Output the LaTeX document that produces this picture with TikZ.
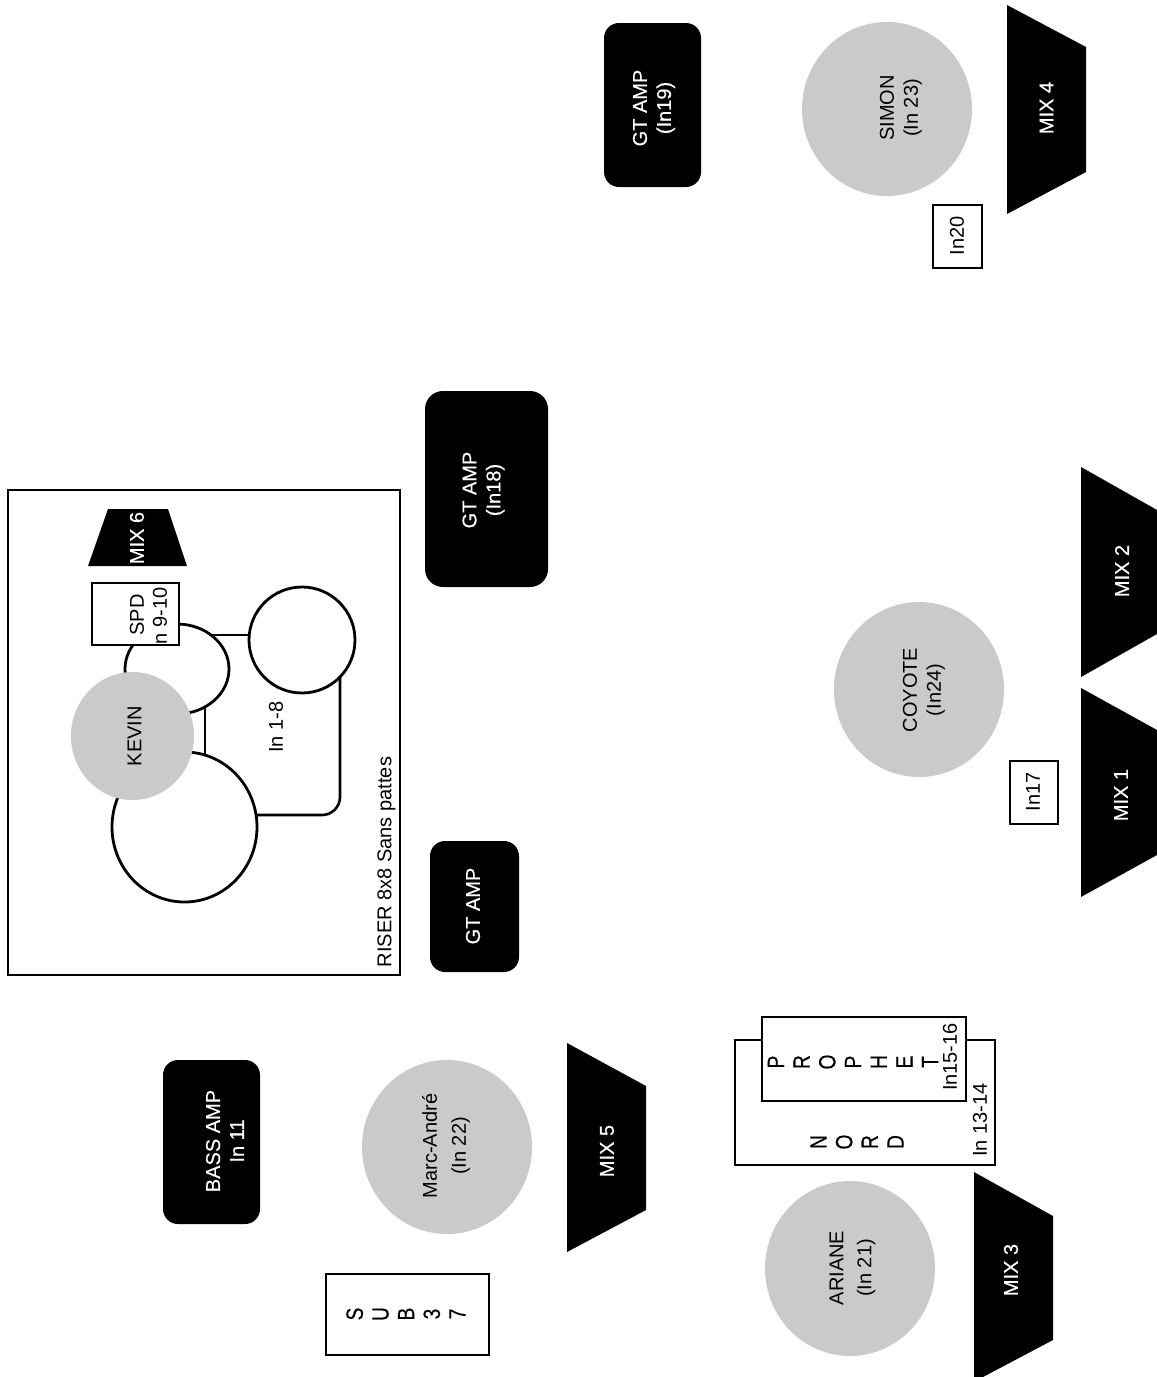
\documentclass[tikz,border=0pt]{standalone}
\usepackage{fontspec}
\setmainfont{Liberation Sans}
\newfontfamily\heavyfont[FakeBold=0.4]{Liberation Sans}
\usetikzlibrary{shapes.geometric}
\definecolor{persongrey}{HTML}{C9CACC}
\newcommand{\tallch}[1]{\scalebox{0.96}[1.18]{#1}}
\tikzset{
  lbl/.style={rotate=90,inner sep=0pt,align=center,font=\fontsize{20}{24}\selectfont},
  white lbl/.style={lbl,text=white,font=\heavyfont\fontsize{20}{24}\selectfont},
  spaced/.style={lbl,font=\heavyfont\fontsize{20}{25.7}\selectfont},
  person/.style={ellipse,fill=persongrey,inner sep=0pt},
  drum/.style={ellipse,draw=black,line width=2.8pt,fill=white,inner sep=0pt},
  amp/.style={fill=black,rounded corners=#1},
  box/.style={draw=black,line width=2.4pt,fill=white},
  wire/.style={draw=black,line width=2.6pt},
  wedge/.style={fill=black}
}
\begin{document}
\begin{tikzpicture}[x=1pt,y=-1pt]
\useasboundingbox (0,0) rectangle (1157,1377);
% riser
\draw[box] (8,490) rectangle (400,975);
\node[lbl] (riserlabel) at (386.5,862) {RISER 8x8 Sans pattes};
\fill[wedge] (108,509) -- (168,509) -- (187,566) -- (88,566) -- cycle;
\node[white lbl] (mix6) at (137,538) {MIX 6};
% drum connectors, their ends hidden under the drums
\coordinate (a1) at (205,700);
\coordinate (a2) at (205,765);
\coordinate (b1) at (205,635);
\coordinate (b2) at (255,635);
\coordinate (c1) at (245,815);
\coordinate (c2) at (340,670);
\draw[wire] (a1) -- (a2);
\draw[wire] (b1) -- (b2);
\draw[wire,rounded corners=18pt] (c1) -| (c2);
% drums
\node[drum,minimum width=145pt,minimum height=150pt] (kick) at (184.5,827) {};
\node[drum,minimum width=104pt,minimum height=90pt] (tom) at (177,669) {};
\node[drum,minimum width=106pt,minimum height=106pt] (floor) at (302,640) {};
\node[lbl] (in18) at (276,727) {In 1-8};
\node[person,minimum width=123pt,minimum height=128pt] (kevin) at (132.5,736) {};
\node[lbl] at (134.5,736) {KEVIN};
\draw[box] (92,583) rectangle (179,645);
\node[lbl] (spd) at (137,615) {SPD};
\node[lbl] (spdin) at (160,616) {n 9-10};
% amps
\fill[amp=15pt] (430,841) rectangle (519,972);
\node[white lbl] (amp1) at (473,906) {GT AMP};
\fill[amp=18pt] (425,391) rectangle (548,587);
\node[white lbl] (amp2) at (483.5,490) {GT AMP\\(In18)};
\fill[amp=15pt] (604,23) rectangle (701,187);
\node[white lbl] (amp3) at (654,108) {GT AMP\\(In19)};
\fill[amp=15pt] (163,1060) rectangle (260,1224);
\node[white lbl] (bass) at (225,1141) {BASS AMP\\In 11};
% people
\node[person,minimum width=170pt,minimum height=174pt] (simon) at (887,109) {};
\node[lbl] at (901,108) {SIMON\\(In 23)};
\node[person,minimum width=170pt,minimum height=175pt] (coyote) at (919,689.5) {};
\node[lbl] at (924,690) {COYOTE\\(In24)};
\node[person,minimum width=170pt,minimum height=174pt] (marc) at (447,1147) {};
\node[lbl,font=\fontsize{20}{29}\selectfont] at (446,1146) {Marc-André\\(In 22)};
\node[person,minimum width=170pt,minimum height=175pt] (ariane) at (850,1268.5) {};
\node[lbl,font=\fontsize{20}{28}\selectfont] at (852.5,1268) {ARIANE\\(In 21)};
% input boxes
\draw[box] (933,205) rectangle (982,268);
\node[lbl] (in20) at (957,236) {In20};
\draw[box] (1010,761) rectangle (1058,824);
\node[lbl] (in17) at (1033,792) {In17};
% wedges
\fill[wedge] (1007,5) -- (1086,47) -- (1086,172) -- (1007,214) -- cycle;
\node[white lbl] (mix4) at (1046.5,108) {MIX 4};
\fill[wedge] (1081,467) -- (1157,510) -- (1157,634) -- (1081,677) -- cycle;
\node[white lbl] (mix2) at (1122,571) {MIX 2};
\fill[wedge] (1081,688) -- (1157,730) -- (1157,855) -- (1081,897) -- cycle;
\node[white lbl] (mix1) at (1121,795) {MIX 1};
\fill[wedge] (567,1043) -- (646,1086) -- (646,1210) -- (567,1252) -- cycle;
\node[white lbl] (mix5) at (607,1151) {MIX 5};
\fill[wedge] (974,1172) -- (1053,1216) -- (1053,1340) -- (983,1377) -- (974,1377) -- cycle;
\node[white lbl] (mix3) at (1011,1270) {MIX 3};
% sub
\draw[box] (326,1274) rectangle (489,1355);
\node[spaced] (sub) at (406,1314) {\tallch{S}\\\tallch{U}\\\tallch{B}\\\tallch{3}\\\tallch{7}};
% keyboards
\draw[box] (735,1040) rectangle (995,1165);
\node[spaced] (nord) at (857,1142) {\tallch{N}\\\tallch{O}\\\tallch{R}\\\tallch{D}};
\node[lbl] (nordin) at (980,1120) {In 13-14};
\draw[box] (762,1017) rectangle (966,1101);
\node[spaced] (prophet) at (853,1062) {\tallch{P}\\\tallch{R}\\\tallch{O}\\\tallch{P}\\\tallch{H}\\\tallch{E}\\\tallch{T}};
\node[lbl] (prophetin) at (950,1057) {In15-16};
\end{tikzpicture}
\end{document}
